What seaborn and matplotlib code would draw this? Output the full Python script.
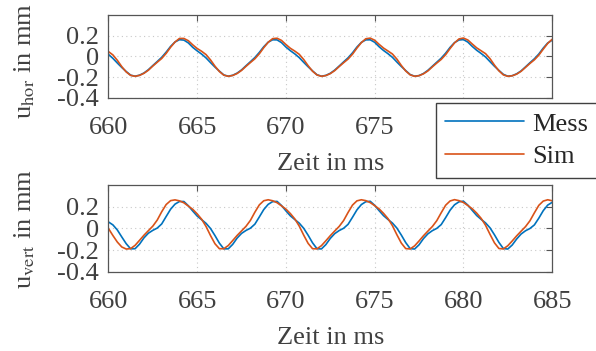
import numpy as np
import matplotlib
matplotlib.use("Agg")
import matplotlib.pyplot as plt
import seaborn as sns

# ==========================
# Data
# ==========================

zeit = np.arange(660.0, 685.01, 0.25)  # ms, sampling grid

hor_mess = [
    0.020, -0.018, -0.063, -0.106, -0.145, -0.180,
    -0.190, -0.180, -0.159, -0.127, -0.087, -0.048, -0.008, 0.042, 0.097, 0.140, 0.162,
    0.158, 0.131, 0.088, 0.054, 0.023, -0.014, -0.059, -0.102, -0.141, -0.178,
    -0.190, -0.181, -0.160, -0.129, -0.089, -0.050, -0.010, 0.039, 0.094, 0.138, 0.161,
    0.160, 0.134, 0.091, 0.056, 0.025, -0.011, -0.056, -0.099, -0.139, -0.176,
    -0.190, -0.182, -0.162, -0.131, -0.092, -0.052, -0.013, 0.035, 0.091, 0.136, 0.160,
    0.161, 0.137, 0.094, 0.058, 0.027, -0.008, -0.053, -0.096, -0.136, -0.174,
    -0.190, -0.184, -0.164, -0.133, -0.094, -0.055, -0.016, 0.032, 0.088, 0.134, 0.159,
    0.163, 0.139, 0.097, 0.060, 0.029, -0.005, -0.050, -0.094, -0.134, -0.172,
    -0.190, -0.185, -0.167, -0.139, -0.100, -0.060, -0.022, 0.024, 0.081, 0.130, 0.157,
]

hor_sim = [
    0.047, 0.015, -0.037, -0.098, -0.149, -0.182,
    -0.191, -0.182, -0.162, -0.132, -0.092, -0.055, -0.019, 0.030, 0.089, 0.140, 0.174,
    0.174, 0.152, 0.112, 0.077, 0.050, 0.018, -0.033, -0.093, -0.145, -0.180,
    -0.191, -0.183, -0.164, -0.134, -0.095, -0.058, -0.022, 0.026, 0.085, 0.137, 0.172,
    0.176, 0.155, 0.115, 0.079, 0.052, 0.021, -0.029, -0.089, -0.142, -0.178,
    -0.191, -0.184, -0.165, -0.136, -0.097, -0.060, -0.025, 0.022, 0.081, 0.134, 0.171,
    0.177, 0.157, 0.117, 0.081, 0.053, 0.024, -0.025, -0.086, -0.140, -0.177,
    -0.191, -0.185, -0.167, -0.139, -0.100, -0.063, -0.028, 0.018, 0.077, 0.131, 0.169,
    0.178, 0.159, 0.120, 0.083, 0.055, 0.027, -0.021, -0.083, -0.138, -0.177,
    -0.191, -0.186, -0.170, -0.143, -0.105, -0.067, -0.032, 0.013, 0.071, 0.126, 0.166,
]

vert_mess = [
    0.060, 0.033, -0.014, -0.078, -0.140, -0.187,
    -0.186, -0.144, -0.086, -0.043, -0.017, 0.004, 0.042, 0.110, 0.177, 0.224, 0.248,
    0.248, 0.209, 0.160, 0.114, 0.081, 0.047, 0.000, -0.065, -0.135, -0.187,
    -0.187, -0.146, -0.088, -0.045, -0.018, 0.003, 0.040, 0.106, 0.174, 0.222, 0.247,
    0.249, 0.211, 0.162, 0.116, 0.082, 0.049, 0.002, -0.062, -0.132, -0.186,
    -0.188, -0.148, -0.091, -0.047, -0.019, 0.002, 0.038, 0.103, 0.171, 0.220, 0.246,
    0.250, 0.213, 0.164, 0.118, 0.083, 0.050, 0.004, -0.060, -0.130, -0.185,
    -0.189, -0.150, -0.093, -0.049, -0.020, 0.001, 0.036, 0.100, 0.168, 0.218, 0.245,
    0.251, 0.215, 0.166, 0.119, 0.084, 0.051, 0.006, -0.058, -0.128, -0.184,
    -0.189, -0.152, -0.097, -0.051, -0.021, 0.000, 0.033, 0.095, 0.164, 0.215, 0.240,
]

vert_sim = [
    0.000, -0.065, -0.125, -0.170, -0.189,
    -0.185, -0.155, -0.109, -0.062, -0.020, 0.022, 0.078, 0.154, 0.220, 0.256, 0.263,
    0.254, 0.236, 0.206, 0.176, 0.134, 0.085, 0.018, -0.065, -0.140, -0.186,
    -0.186, -0.157, -0.111, -0.064, -0.022, 0.020, 0.075, 0.150, 0.217, 0.255, 0.264,
    0.255, 0.237, 0.208, 0.178, 0.137, 0.088, 0.022, -0.061, -0.137, -0.186,
    -0.187, -0.158, -0.113, -0.066, -0.023, 0.019, 0.073, 0.147, 0.215, 0.254, 0.264,
    0.256, 0.238, 0.210, 0.180, 0.139, 0.091, 0.026, -0.057, -0.134, -0.185,
    -0.188, -0.160, -0.115, -0.067, -0.024, 0.018, 0.072, 0.145, 0.214, 0.253, 0.265,
    0.256, 0.239, 0.211, 0.181, 0.141, 0.093, 0.029, -0.054, -0.132, -0.184,
    -0.188, -0.159, -0.115, -0.068, -0.025, 0.017, 0.071, 0.144, 0.213, 0.252, 0.264, 0.255,
]

x_ticks = [660, 665, 670, 675, 680, 685]
y_ticks = [-0.4, -0.2, 0, 0.2]
y_ticklabels = ["-0.4", "-0.2", "0", "0.2"]

series_labels = ["Mess", "Sim"]
ylabels = [r"u$_{\mathrm{hor}}$ in mm", r"u$_{\mathrm{vert}}$ in mm"]

# ==========================
# Style
# ==========================

sns.set_style("white")
plt.rcParams["font.family"] = ["Liberation Serif", "DejaVu Serif"]
plt.rcParams["mathtext.fontset"] = "stix"

blue = "#0072BD"
red = "#D95319"
txt = "#404040"
fs = 19

fig = plt.figure(figsize=(5.96, 3.51), dpi=100)
ax1 = fig.add_axes([0.182, 0.7208, 0.7444, 0.2365])
ax2 = fig.add_axes([0.182, 0.2251, 0.7444, 0.2479])

panels = [
    (ax1, hor_mess, hor_sim, ylabels[0], 0.45),
    (ax2, vert_mess, vert_sim, ylabels[1], 0.49),
]

for ax, mess, sim, ylab, ylab_y in panels:
    sns.lineplot(x=zeit, y=mess, ax=ax, color=blue, lw=1.2, label=series_labels[0])
    sns.lineplot(x=zeit, y=sim, ax=ax, color=red, lw=1.2, label=series_labels[1])
    ax.get_legend().remove()

    ax.set_xlim(660, 685)
    ax.set_ylim(-0.4, 0.4)
    ax.set_xticks(x_ticks)
    ax.set_yticks(y_ticks)
    ax.set_yticklabels(y_ticklabels)
    ax.grid(True, ls=(0, (1, 3)), color="#c8c8c8", lw=0.8)

    ax.tick_params(axis="both", direction="in", top=True, right=True,
                   length=4, width=0.8, color="#555555",
                   labelcolor=txt, labelsize=fs)
    ax.tick_params(axis="x", pad=14)
    ax.tick_params(axis="y", pad=7)
    for sp in ax.spines.values():
        sp.set_color("#555555")
        sp.set_linewidth(0.9)

    ax.set_xlabel("Zeit in ms", fontsize=fs, color=txt, labelpad=10)
    ax.set_ylabel(ylab, fontsize=fs, color=txt)
    ax.yaxis.set_label_coords(-0.16, ylab_y)

handles, labels = ax1.get_legend_handles_labels()
fig.legend(handles, labels, loc="upper left",
           bbox_to_anchor=(436 / 596, 1 - 103 / 351),
           frameon=True, fancybox=False, framealpha=1,
           edgecolor="#404040", facecolor="white",
           fontsize=fs, handlelength=3.0, handletextpad=0.3,
           borderpad=0.35, labelspacing=0.35, borderaxespad=0)

plt.savefig("out.png", dpi=100)
